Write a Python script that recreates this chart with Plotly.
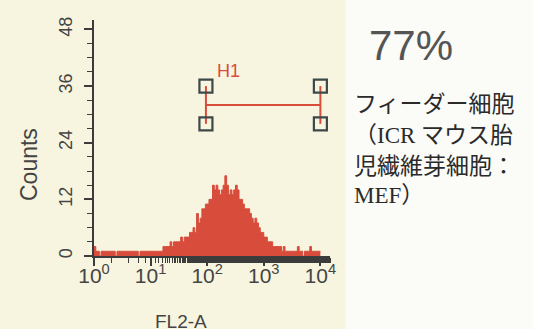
import plotly.graph_objects as go

# ---- data ----
bins_per_decade = 32
counts = [
    # 10^0 - 10^1
    2, 1, 1, 0, 1, 1, 1, 1, 1, 1, 1, 1, 0, 1, 1, 1,
    1, 1, 1, 1, 1, 1, 1, 1, 1, 0, 1, 1, 1, 1, 1, 1,
    # 10^1 - 10^2
    1, 1, 1, 1, 1, 1, 1, 2, 2, 2, 2, 3, 2, 3, 3, 3,
    3, 4, 3, 4, 4, 4, 5, 5, 6, 5, 9, 7, 8, 10, 10, 11,
    # 10^2 - 10^3
    11, 12, 12, 15, 14, 15, 14, 13, 14, 15, 17, 15, 13, 14, 13, 14,
    15, 14, 12, 12, 11, 10, 10, 10, 9, 8, 7, 8, 7, 6, 5, 5,
    # 10^3 - 10^4
    4, 4, 3, 3, 3, 2, 2, 2, 2, 2, 1, 2, 1, 1, 1, 1,
    1, 1, 1, 2, 1, 1, 0, 1, 1, 1, 2, 1, 1, 1, 1, 1,
]
gate_x = [95, 10000]          # H1 marker limits (FL2-A)
gate_y = [28, 32, 36]         # lower handle, bar, upper handle (Counts)
gate_label = "H1"
y_ticks = [0, 12, 24, 36, 48]
x_ticks = [1, 10, 100, 1000, 10000]
x_ticktext = ["10<sup>0</sup>", "10<sup>1</sup>", "10<sup>2</sup>", "10<sup>3</sup>", "10<sup>4</sup>"]
percent_text = "77%"
note_lines = ["フィーダー細胞", "（ICR マウス胎", "児繊維芽細胞：", "MEF）"]

# ---- figure ----
edges = [10 ** (i / bins_per_decade) for i in range(len(counts) + 1)]
ys = counts + [counts[-1]]

RED = "rgb(216,76,60)"
AX = "#3c3c3c"
SQ = "#3d4848"
fig = go.Figure()
fig.add_trace(go.Scatter(
    x=edges, y=ys, mode="lines", line=dict(shape="hv", color=RED, width=1),
    fill="tozeroy", fillcolor=RED, hoverinfo="skip", showlegend=False))

# H1 gate
fig.add_trace(go.Scatter(x=gate_x, y=[gate_y[1], gate_y[1]], mode="lines",
                         line=dict(color=RED, width=2), showlegend=False))
for gx in gate_x:
    fig.add_trace(go.Scatter(x=[gx, gx], y=[gate_y[0], gate_y[2]], mode="lines",
                             line=dict(color=RED, width=2), showlegend=False))
    fig.add_trace(go.Scatter(x=[gx, gx], y=[gate_y[0], gate_y[2]], mode="markers",
                             marker=dict(symbol="square-open", size=13, color=SQ,
                                         line=dict(color=SQ, width=2.2)),
                             showlegend=False))
fig.add_annotation(x=2.0, y=39.2, xref="x", yref="y", text=gate_label,
                   showarrow=False, xanchor="left", yanchor="middle",
                   xshift=8, font=dict(size=18, color=RED, family="Liberation Sans"))

fig.update_layout(
    width=533, height=329,
    margin=dict(l=94, r=203, t=20, b=73),
    paper_bgcolor="#fbfbf8", plot_bgcolor="rgba(0,0,0,0)",
    font=dict(family="Liberation Sans, Arial, sans-serif", color=AX),
    xaxis=dict(type="log", range=[0, 4.17], tickvals=x_ticks, ticktext=x_ticktext,
               ticks="outside", ticklen=8, tickwidth=1.5, tickcolor=AX,
               showline=True, linecolor=AX, linewidth=1.5, showgrid=False,
               zeroline=False, tickfont=dict(size=21, color="#444"),
               ticklabelstandoff=-8, automargin=False,
               minor=dict(ticks="outside", ticklen=5, tickwidth=1.2, tickcolor=AX,
                          showgrid=False)),
    yaxis=dict(range=[0, 50], tickvals=y_ticks, tickangle=-90,
               ticks="outside", ticklen=8, tickwidth=1.5, tickcolor=AX,
               showline=True, linecolor=AX, linewidth=1.5, showgrid=False,
               zeroline=False, tickfont=dict(size=18, color="#444"),
               ticklabelstandoff=5, automargin=False,
               minor=dict(dtick=3, ticks="outside", ticklen=5, tickwidth=1.2,
                          tickcolor=AX, showgrid=False)),
    shapes=[dict(type="rect", xref="paper", yref="paper", x0=-0.45, x1=1.065,
                 y0=-0.35, y1=1.12, fillcolor="#f7f5e0", line=dict(width=0),
                 layer="below")],
)

# axis titles
fig.add_annotation(xref="paper", yref="paper", x=(29 - 94) / 236, y=(256 - 165) / 236,
                   text="Counts", textangle=-90, showarrow=False,
                   xanchor="center", yanchor="middle",
                   font=dict(size=23, color="#444"))
fig.add_annotation(xref="paper", yref="paper", x=(181 - 94) / 236, y=(256 - 309) / 236,
                   text="FL2-A", showarrow=False, xanchor="center", yanchor="top",
                   font=dict(size=19, color="#444"))

# right-hand text
fig.add_annotation(xref="paper", yref="paper", x=(367 - 94) / 236, y=(256 - 45) / 236,
                   text=percent_text, showarrow=False, xanchor="left", yanchor="middle",
                   font=dict(size=42, color="#555", family="Liberation Sans"))
line_y_px = [104, 135, 166, 195]
for txt, py in zip(note_lines, line_y_px):
    fig.add_annotation(xref="paper", yref="paper", x=(352 - 94) / 236,
                       y=(256 - py) / 236, text=txt, showarrow=False,
                       xanchor="left", yanchor="middle",
                       font=dict(size=23, color="#2a2a2a",
                                 family="Liberation Serif, Noto Sans CJK JP, serif"))

fig.write_html("out.html", post_script="document.body.style.margin='0';",
               config={"displayModeBar": False})
